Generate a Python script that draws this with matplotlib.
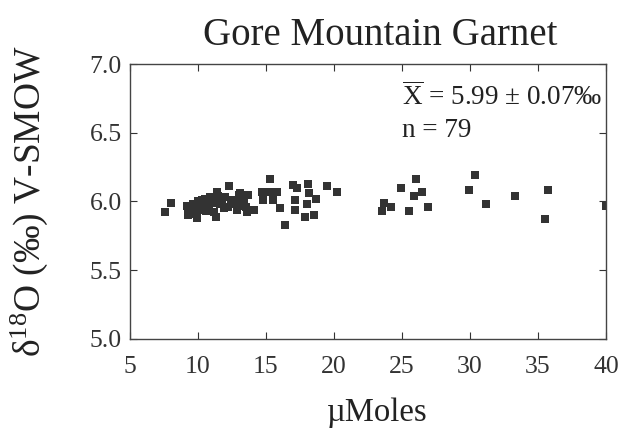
import matplotlib
matplotlib.use("Agg")
import matplotlib.pyplot as plt

plt.rcParams['font.family'] = ['Liberation Serif', 'DejaVu Serif']
plt.rcParams['mathtext.fontset'] = 'custom'
plt.rcParams['mathtext.rm'] = 'Liberation Serif'
plt.rcParams['mathtext.it'] = 'Liberation Serif:italic'

# garnet analyses: sample size (umol) vs d18O
umoles = [7.6, 8.0, 9.2, 9.3, 9.3, 9.5, 9.6, 9.8, 9.9, 10.0,
          10.1, 10.2, 10.3, 10.5, 10.6, 10.8, 10.9, 11.0, 11.2, 11.3,
          11.4, 11.5, 11.6, 11.8, 11.9, 12.0, 12.2, 12.3, 12.4, 12.6,
          12.8, 12.9, 13.0, 13.2, 13.4, 13.5, 13.6, 13.1, 11.1, 10.4,
          13.7, 13.4, 14.1, 15.3, 14.7, 15.3, 15.8, 14.8, 15.5, 16.0,
          17.0, 17.3, 18.1, 18.2, 18.7, 17.1, 17.1, 18.0, 17.9, 18.5,
          16.4, 19.5, 20.2,
          23.7, 24.2, 23.5, 24.9, 25.5, 25.9, 26.0, 26.5, 26.9,
          30.4, 29.9, 31.2, 33.3, 35.7, 35.5, 40.0]
d18o = [5.92, 5.99, 5.97, 5.90, 5.93, 5.96, 5.98, 5.91, 5.88, 6.00,
        5.95, 5.97, 6.01, 6.02, 5.93, 5.96, 6.03, 5.99, 5.92, 5.89,
        6.07, 6.04, 5.98, 5.99, 5.95, 6.03, 5.96, 6.11, 6.01, 5.98,
        6.00, 5.94, 6.05, 5.97, 6.03, 5.96, 5.92, 6.06, 6.00, 5.94,
        6.05, 5.99, 5.94, 6.16, 6.07, 6.07, 6.07, 6.01, 6.01, 5.95,
        6.12, 6.10, 6.13, 6.06, 6.02, 6.01, 5.94, 5.98, 5.89, 5.90,
        5.83, 6.11, 6.07,
        5.99, 5.96, 5.93, 6.10, 5.93, 6.04, 6.16, 6.07, 5.96,
        6.19, 6.08, 5.98, 6.04, 6.08, 5.87, 5.97]

fig = plt.figure(figsize=(6.3, 4.36), dpi=100)
ax = fig.add_axes([0.2063, 0.2225, 0.7556, 0.6307])

ax.plot(umoles, d18o, 's', color='#333333', markersize=5.8, markeredgewidth=0)

ax.set_xlim(5, 40)
ax.set_ylim(5.0, 7.0)
ax.set_xticks([5, 10, 15, 20, 25, 30, 35, 40])
ax.set_yticks([5.0, 5.5, 6.0, 6.5, 7.0])
ax.set_yticklabels(['5.0', '5.5', '6.0', '6.5', '7.0'])
ax.tick_params(direction='in', top=True, right=True, length=5, width=0.8,
               labelsize=18.5, colors='#333333')
ax.tick_params(axis='x', pad=12)
ax.tick_params(axis='y', pad=6)
for s in ax.spines.values():
    s.set_linewidth(1.0)
    s.set_color('#444444')

ax.set_title('Gore Mountain Garnet', fontsize=28, pad=14, color='#222222',
             x=0.525)
ax.set_xlabel('µMoles', fontsize=23.5, labelpad=14, color='#222222', x=0.52)
ax.set_ylabel(r'δ$^{18}$O ($\it{‰}$) V-SMOW', fontsize=27, labelpad=28,
              color='#222222')

ax.text(25.0, 6.70, r'$\overline{\rm X}$ = 5.99 ± 0.07$\it{‰}$', fontsize=19.5,
        color='#222222', va='baseline')
ax.text(25.0, 6.47, 'n = 79', fontsize=19.5, color='#222222', va='baseline')

fig.savefig('out.png', dpi=100)
